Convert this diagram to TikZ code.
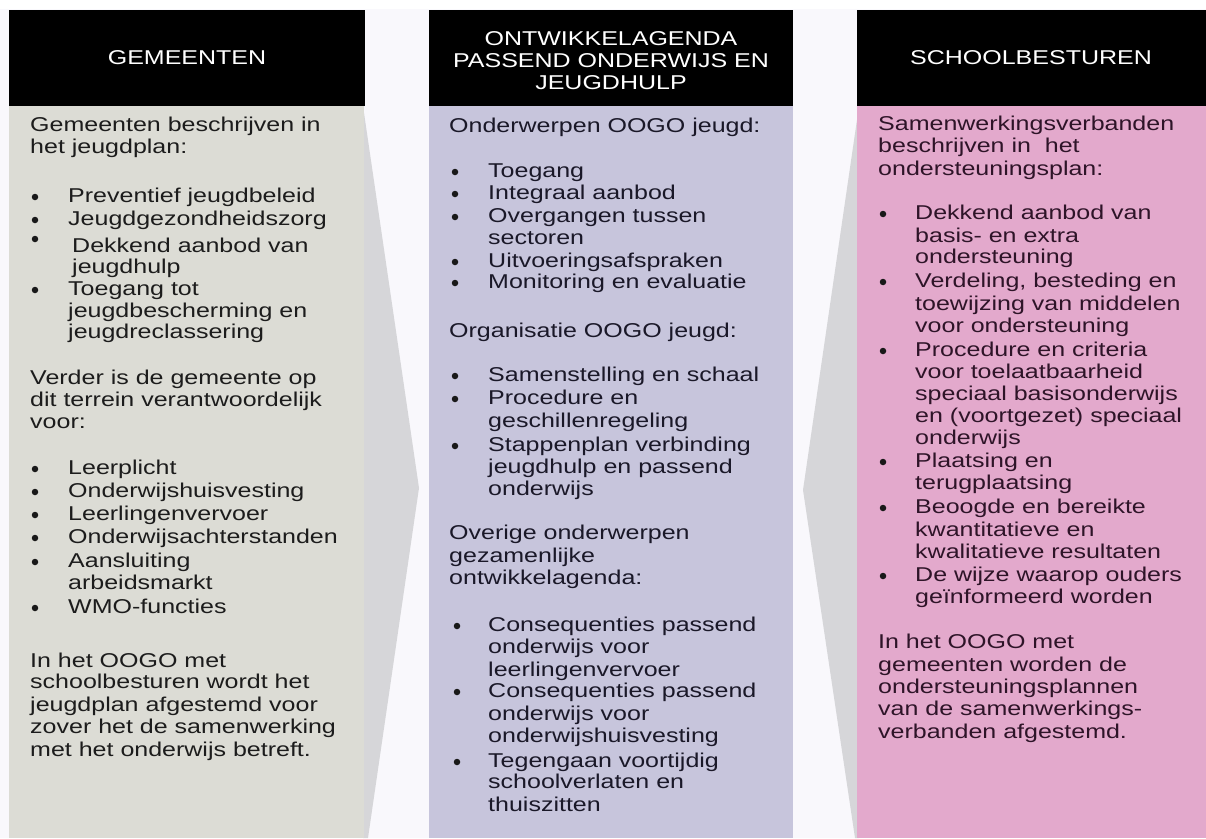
\documentclass[tikz,border=0pt]{standalone}
\usepackage{fontspec}
\setmainfont{Liberation Sans}[FakeStretch=1.25]
\definecolor{gapwhite}{HTML}{F9F8FC}
\definecolor{arrowgray}{HTML}{D6D6D9}
\definecolor{colA}{HTML}{DCDCD5}
\definecolor{colB}{HTML}{C7C5DC}
\definecolor{colC}{HTML}{E3A9CC}
\definecolor{txtA}{HTML}{1C1C1C}
\definecolor{txtB}{HTML}{1A1828}
\definecolor{txtC}{HTML}{2E1428}
\newcommand\txline[5][txtA]{\node[txt,text=#1] (#2) at (#3,#4) {#5};}
\newcommand\bulpt[3]{\node[bulp] (#1) at (#2,#3) {};}
\begin{document}
\begin{tikzpicture}[x=1pt,y=-1pt,
  txt/.style={anchor=base west,inner sep=0pt,font=\fontsize{20}{22}\selectfont},
  hdr/.style={anchor=base,inner sep=0pt,text=white,font=\fontsize{20}{22}\selectfont},
  bulp/.style={circle,fill=black!90,inner sep=0pt,minimum size=6.5pt}]
\useasboundingbox (0,0) rectangle (1206,838);
\fill[gapwhite] (0,0) rectangle (1206,838);
\fill[white] (0,0) rectangle (1206,9);
% arrows
\fill[arrowgray] (363,106) -- (419,488) -- (368,838) -- (363,838) -- cycle;
\fill[arrowgray] (859,106) -- (803,490) -- (855,838) -- (859,838) -- cycle;
% columns
\fill[colA] (9,106) rectangle (364,838);
\fill[colB] (429,106) rectangle (793,838);
\fill[colC] (857,106) rectangle (1206,838);
\fill[black] (9,10) rectangle (365,106);
\fill[black] (429,10) rectangle (793,106);
\fill[black] (857,10) rectangle (1206,106);
% headers
\node[hdr] (hA) at (187,64) {GEMEENTEN};
\node[hdr] (hB1) at (611,45) {ONTWIKKELAGENDA};
\node[hdr] (hB2) at (611,67) {PASSEND ONDERWIJS EN};
\node[hdr] (hB3) at (611,89) {JEUGDHULP};
\node[hdr] (hC) at (1031,64) {SCHOOLBESTUREN};
% left column
\txline{a1}{30}{131}{Gemeenten beschrijven in}
\txline{a2}{30}{153}{het jeugdplan:}
\bulpt{ab1}{35}{197}\txline{a3}{68}{202}{Preventief jeugdbeleid}
\bulpt{ab2}{35}{220}\txline{a4}{68}{225}{Jeugdgezondheidszorg}
\bulpt{ab3}{35}{239}\txline{a5}{72}{252}{Dekkend aanbod van}
\txline{a6}{72}{273}{jeugdhulp}
\bulpt{ab4}{35}{290}\txline{a7}{68}{295}{Toegang tot}
\txline{a8}{68}{317}{jeugdbescherming en}
\txline{a9}{68}{338}{jeugdreclassering}
\txline{a10}{30}{384}{Verder is de gemeente op}
\txline{a11}{30}{406}{dit terrein verantwoordelijk}
\txline{a12}{30}{428}{voor:}
\bulpt{ab5}{35}{469}\txline{a13}{68}{474}{Leerplicht}
\bulpt{ab6}{35}{492}\txline{a14}{68}{497}{Onderwijshuisvesting}
\bulpt{ab7}{35}{515}\txline{a15}{68}{520}{Leerlingenvervoer}
\bulpt{ab8}{35}{538}\txline{a16}{68}{543}{Onderwijsachterstanden}
\bulpt{ab9}{35}{562}\txline{a17}{68}{567}{Aansluiting}
\txline{a18}{68}{589}{arbeidsmarkt}
\bulpt{ab10}{35}{608}\txline{a19}{68}{613}{WMO-functies}
\txline{a20}{30}{667}{In het OOGO met}
\txline{a21}{30}{688}{schoolbesturen wordt het}
\txline{a22}{30}{711}{jeugdplan afgestemd voor}
\txline{a23}{30}{733}{zover het de samenwerking}
\txline{a24}{30}{756}{met het onderwijs betreft.}
% middle column
\txline[txtB]{b1}{449}{132}{Onderwerpen OOGO jeugd:}
\bulpt{bb1}{455}{172}\txline[txtB]{b2}{488}{177}{Toegang}
\bulpt{bb2}{455}{194}\txline[txtB]{b3}{488}{199}{Integraal aanbod}
\bulpt{bb3}{455}{217}\txline[txtB]{b4}{488}{222}{Overgangen tussen}
\txline[txtB]{b5}{488}{244}{sectoren}
\bulpt{bb4}{455}{262}\txline[txtB]{b6}{488}{267}{Uitvoeringsafspraken}
\bulpt{bb5}{455}{283}\txline[txtB]{b7}{488}{288}{Monitoring en evaluatie}
\txline[txtB]{b8}{449}{337}{Organisatie OOGO jeugd:}
\bulpt{bb6}{455}{376}\txline[txtB]{b9}{488}{381}{Samenstelling en schaal}
\bulpt{bb7}{455}{399}\txline[txtB]{b10}{488}{404}{Procedure en}
\txline[txtB]{b11}{488}{427}{geschillenregeling}
\bulpt{bb8}{455}{446}\txline[txtB]{b12}{488}{451}{Stappenplan verbinding}
\txline[txtB]{b13}{488}{473}{jeugdhulp en passend}
\txline[txtB]{b14}{488}{495}{onderwijs}
\txline[txtB]{b15}{449}{539}{Overige onderwerpen}
\txline[txtB]{b16}{449}{562}{gezamenlijke}
\txline[txtB]{b17}{449}{584}{ontwikkelagenda:}
\bulpt{bb9}{457}{626}\txline[txtB]{b18}{488}{631}{Consequenties passend}
\txline[txtB]{b19}{488}{653}{onderwijs voor}
\txline[txtB]{b20}{488}{676}{leerlingenvervoer}
\bulpt{bb10}{457}{692}\txline[txtB]{b21}{488}{697}{Consequenties passend}
\txline[txtB]{b22}{488}{720}{onderwijs voor}
\txline[txtB]{b23}{488}{742}{onderwijshuisvesting}
\bulpt{bb11}{457}{762}\txline[txtB]{b24}{488}{767}{Tegengaan voortijdig}
\txline[txtB]{b25}{488}{788}{schoolverlaten en}
\txline[txtB]{b26}{488}{811}{thuiszitten}
% right column
\txline[txtC]{c1}{878}{130}{Samenwerkingsverbanden}
\txline[txtC]{c2}{878}{152}{beschrijven in\ \ het}
\txline[txtC]{c3}{878}{175}{ondersteuningsplan:}
\bulpt{cb1}{883}{214}\txline[txtC]{c4}{915}{219}{Dekkend aanbod van}
\txline[txtC]{c5}{915}{242}{basis- en extra}
\txline[txtC]{c6}{915}{263}{ondersteuning}
\bulpt{cb2}{883}{282}\txline[txtC]{c7}{915}{287}{Verdeling, besteding en}
\txline[txtC]{c8}{915}{310}{toewijzing van middelen}
\txline[txtC]{c9}{915}{332}{voor ondersteuning}
\bulpt{cb3}{883}{351}\txline[txtC]{c10}{915}{356}{Procedure en criteria}
\txline[txtC]{c11}{915}{378}{voor toelaatbaarheid}
\txline[txtC]{c12}{915}{400}{speciaal basisonderwijs}
\txline[txtC]{c13}{915}{422}{en (voortgezet) speciaal}
\txline[txtC]{c14}{915}{444}{onderwijs}
\bulpt{cb4}{883}{462}\txline[txtC]{c15}{915}{467}{Plaatsing en}
\txline[txtC]{c16}{915}{489}{terugplaatsing}
\bulpt{cb5}{883}{508}\txline[txtC]{c17}{915}{513}{Beoogde en bereikte}
\txline[txtC]{c18}{915}{536}{kwantitatieve en}
\txline[txtC]{c19}{915}{558}{kwalitatieve resultaten}
\bulpt{cb6}{883}{576}\txline[txtC]{c20}{915}{581}{De wijze waarop ouders}
\txline[txtC]{c21}{915}{603}{geïnformeerd worden}
\txline[txtC]{c22}{878}{648}{In het OOGO met}
\txline[txtC]{c23}{878}{671}{gemeenten worden de}
\txline[txtC]{c24}{878}{693}{ondersteuningsplannen}
\txline[txtC]{c25}{878}{715}{van de samenwerkings-}
\txline[txtC]{c26}{878}{738}{verbanden afgestemd.}
\end{tikzpicture}
\end{document}
